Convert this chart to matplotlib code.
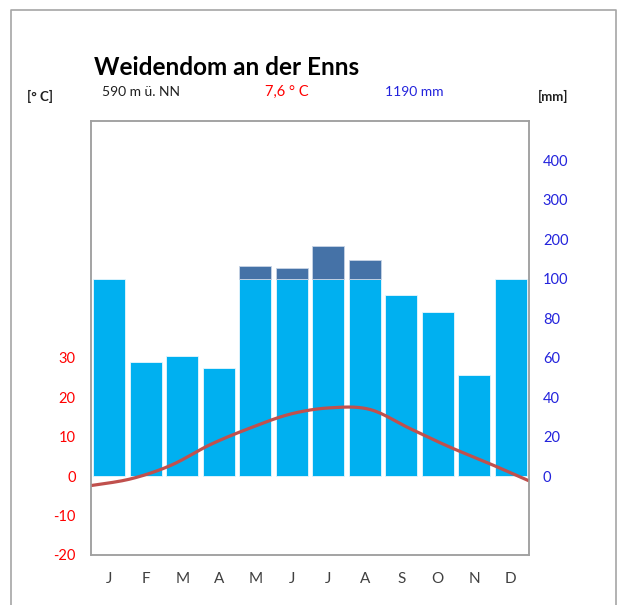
import numpy as np
import matplotlib
matplotlib.use('Agg')
import matplotlib.pyplot as plt
from matplotlib.lines import Line2D

# ---- data ----
months = ['J', 'F', 'M', 'A', 'M', 'J', 'J', 'A', 'S', 'O', 'N', 'D']
precip_mm = [100, 58, 61, 55, 133, 128, 184, 148, 92, 83, 51, 100]
temp_c = [-2.4, -0.7, 2.7, 8.0, 12.2, 15.7, 17.3, 16.9, 12.1, 7.4, 3.2, -1.2]
temp_ticks = [-20, -10, 0, 10, 20, 30]
precip_ticks = [0, 20, 40, 60, 80, 100, 200, 300, 400]
title = 'Weidendom an der Enns'
elevation = '590 m ü. NN'
mean_temp = '7,6 ° C'
total_precip = '1190 mm'

plt.rcParams['font.family'] = ['Lato', 'DejaVu Sans']

W, H = 620, 605
fig = plt.figure(figsize=(W / 100, H / 100), dpi=100)

def fx(px):
    return px / W

def fy(py):
    return 1 - py / H

ax = fig.add_axes([fx(91), fy(555), fx(529) - fx(91), fy(121) - fy(555)])
ax2 = ax.twinx()

# precipitation scale: 0-100 mm -> 2 mm per °C, above 100 compressed 10x
def fwd(p):
    p = np.asarray(p, dtype=float)
    return np.where(p <= 100, p / 2.0, 50 + (p - 100) / 10.0)

def inv(t):
    t = np.asarray(t, dtype=float)
    return np.where(t <= 50, t * 2.0, 100 + (t - 50) * 10.0)

ax2.set_yscale('function', functions=(fwd, inv))
ax2.set_ylim(-40, 500)
ax.set_ylim(-20, 90)
ax.set_xlim(-0.5, 11.5)

x = np.arange(len(months))
p = np.array(precip_mm, dtype=float)
ax2.bar(x, np.minimum(p, 100), width=0.87, color='#00B0F0', edgecolor='#E8F7FD', linewidth=0.6)
over = p > 100
ax2.bar(x[over], p[over] - 100, bottom=100, width=0.87, color='#4572A7', edgecolor='#C8D4E6', linewidth=0.6)

# smoothed temperature line (Catmull-Rom), points spanning edge to edge
tx = np.linspace(-0.5, 11.5, len(temp_c))
ty = np.array(temp_c)
P = np.column_stack([tx, ty])
Pext = np.vstack([P[0], P, P[-1]])
xs, ys = [], []
for i in range(len(P) - 1):
    p0, p1, p2, p3 = Pext[i], Pext[i + 1], Pext[i + 2], Pext[i + 3]
    for t in np.linspace(0, 1, 25, endpoint=(i == len(P) - 2)):
        pt = 0.5 * ((2 * p1) + (-p0 + p2) * t + (2 * p0 - 5 * p1 + 4 * p2 - p3) * t ** 2
                    + (-p0 + 3 * p1 - 3 * p2 + p3) * t ** 3)
        xs.append(pt[0]); ys.append(pt[1])
ax.plot(xs, ys, color='#C0504D', lw=2.3, solid_capstyle='butt', clip_on=False)

ax.set_zorder(ax2.get_zorder() + 1)
ax.patch.set_visible(False)

ax.set_yticks(temp_ticks)
ax.set_yticklabels([str(v) for v in temp_ticks])
ax.tick_params(axis='y', length=0, pad=11, labelsize=10.5, labelcolor='#FF0000')
ax.set_xticks(x)
ax.set_xticklabels(months)
ax.tick_params(axis='x', length=0, pad=12, labelsize=11, labelcolor='#404040')

ax2.set_yticks(precip_ticks)
ax2.set_yticklabels([str(v) for v in precip_ticks])
ax2.yaxis.set_minor_locator(matplotlib.ticker.NullLocator())
ax2.tick_params(axis='y', length=0, pad=10, labelsize=10.5, labelcolor='#2323DC')

for a in (ax, ax2):
    for s in a.spines.values():
        s.set_color('#A0A0A0')
        s.set_linewidth(1.1)

# texts
fig.text(fx(94), fy(75), title, fontsize=17.5, fontweight='bold', va='baseline', ha='left', color='black')
fig.text(fx(27), fy(96), '[° C]', fontsize=9.5, fontweight='bold', va='center', ha='left', color='#202020')
fig.text(fx(538), fy(96), '[mm]', fontsize=9.5, fontweight='bold', va='center', ha='left', color='#202020')
fig.text(fx(102), fy(92), elevation, fontsize=10, va='center', ha='left', color='#202020')
fig.text(fx(265), fy(92), mean_temp, fontsize=10.5, va='center', ha='left', color='#FF0000')
fig.text(fx(385), fy(92), total_precip, fontsize=10, va='center', ha='left', color='#2323DC')

# outer frame lines
fig.add_artist(Line2D([fx(11), fx(11), fx(616), fx(616)], [0, fy(10), fy(10), 0],
                      color='#A6A6A6', lw=1.2, transform=fig.transFigure))

fig.savefig('out.png', dpi=100)
